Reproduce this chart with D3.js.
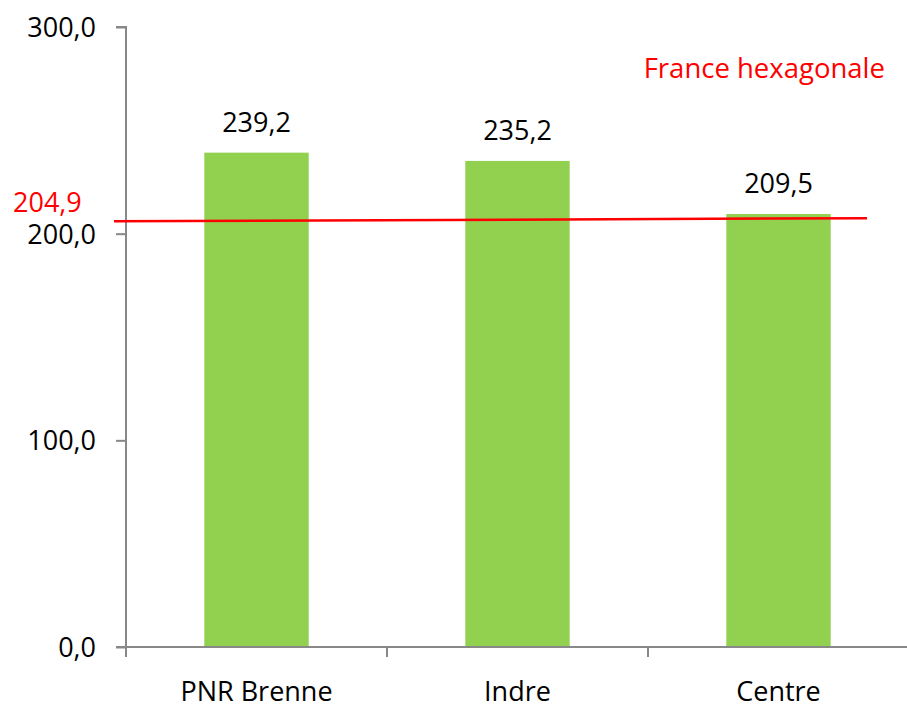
<!DOCTYPE html>
<html>
<head>
  <script src="https://d3js.org/d3.v7.min.js"></script>
  <style>
    body { margin: 0; background: #fff; }
    text { font-family: "Open Sans", sans-serif; }
  </style>
</head>
<body>
  <script>
    // data
    var categories = ['PNR Brenne', 'Indre', 'Centre'];
    var values = [239.2, 235.2, 209.5];
    var yTicks = [0, 100, 200, 300];
    var refLabel = 'France hexagonale';
    var refValue = 204.9;
    // the drawn reference line sits slightly above its value and tilts a bit
    var refLineEnds = [206.0, 207.5];

    var width = 907, height = 709;
    var fmt = function (v) { return d3.format('.1f')(v).replace('.', ','); };

    var svg = d3.select('body').append('svg')
      .attr('width', width)
      .attr('height', height);

    var x = d3.scaleBand()
      .domain(categories)
      .range([126, 909])
      .paddingInner(0.6)
      .paddingOuter(0.3);

    var y = d3.scaleLinear()
      .domain([0, 300])
      .range([647, 27]);

    // bars
    svg.append('g').selectAll('rect')
      .data(values)
      .enter()
      .append('rect')
      .attr('x', function (d, i) { return x(categories[i]); })
      .attr('y', function (d) { return y(d); })
      .attr('width', x.bandwidth())
      .attr('height', function (d) { return y(0) - y(d); })
      .attr('fill', '#92D050');

    // value labels
    svg.append('g').selectAll('text')
      .data(values)
      .enter()
      .append('text')
      .attr('x', function (d, i) { return x(categories[i]) + x.bandwidth() / 2; })
      .attr('y', function (d) { return y(d) - 21; })
      .attr('text-anchor', 'middle')
      .attr('font-size', 27)
      .attr('fill', '#000')
      .text(fmt);

    // y axis
    var yAxis = svg.append('g')
      .attr('transform', 'translate(126,0)')
      .call(d3.axisLeft(y).tickValues(yTicks).tickSize(10).tickPadding(20).tickFormat(fmt));
    yAxis.select('.domain').attr('stroke', '#888').attr('stroke-width', 2)
      .attr('d', 'M-10,' + y(300) + 'H0V' + y(0));
    yAxis.selectAll('.tick line').attr('stroke', '#888').attr('stroke-width', 2);
    yAxis.selectAll('.tick text').attr('font-size', 27).attr('fill', '#000')
      .attr('font-family', '"Open Sans", sans-serif').attr('dy', '0.35em');

    // x axis
    var xAxis = svg.append('g')
      .attr('transform', 'translate(0,' + y(0) + ')');
    xAxis.append('line')
      .attr('x1', 116).attr('x2', 909)
      .attr('stroke', '#888').attr('stroke-width', 2);
    var step = x.step();
    var bounds = d3.range(categories.length + 1).map(function (i) { return 126 + i * step; });
    xAxis.selectAll('.sep')
      .data(bounds)
      .enter()
      .append('line')
      .attr('x1', function (d) { return d; })
      .attr('x2', function (d) { return d; })
      .attr('y1', 0).attr('y2', 10)
      .attr('stroke', '#888').attr('stroke-width', 2);
    xAxis.selectAll('.cat')
      .data(categories)
      .enter()
      .append('text')
      .attr('x', function (d) { return x(d) + x.bandwidth() / 2; })
      .attr('y', 54)
      .attr('text-anchor', 'middle')
      .attr('font-size', 27)
      .attr('fill', '#000')
      .text(function (d) { return d; });

    // reference line
    svg.append('line')
      .attr('x1', 114).attr('x2', 867)
      .attr('y1', y(refLineEnds[0])).attr('y2', y(refLineEnds[1]))
      .attr('stroke', '#ff0000').attr('stroke-width', 2.5);
    svg.append('text')
      .attr('x', 13).attr('y', 212)
      .attr('font-size', 27)
      .attr('fill', '#ff0000')
      .text(fmt(refValue));
    svg.append('text')
      .attr('x', 885).attr('y', 78)
      .attr('text-anchor', 'end')
      .attr('font-size', 27.5)
      .attr('fill', '#ff0000')
      .text(refLabel);
  </script>
</body>
</html>
